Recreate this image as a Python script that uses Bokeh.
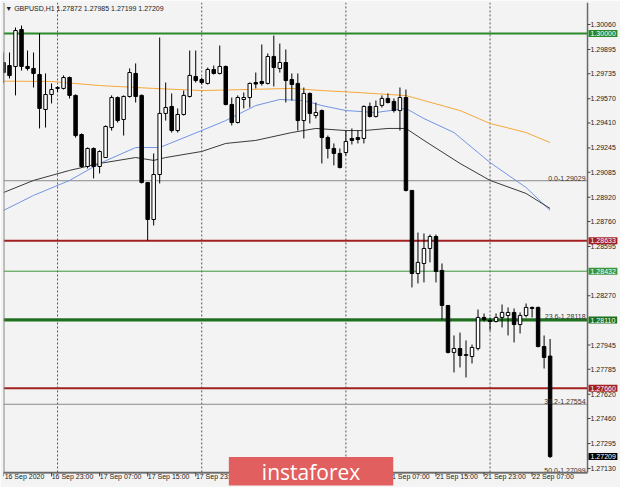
from bokeh.plotting import figure
from bokeh.models import ColumnDataSource, FixedTicker, PrintfTickFormatter, Label, Range1d
from bokeh.embed import file_html
from bokeh.resources import INLINE
from bokeh.core.properties import value

symbol = "GBPUSD,H1"

# H1 bars, 16 Sep 2020 15:00 (bar 0) ... 22 Sep 2020 10:00 (bar 91)
opens = [1.29809, 1.29789, 1.29783, 1.30027, 1.29783, 1.29770, 1.29730, 1.29499, 1.29598, 1.29638,
         1.29638, 1.29710, 1.29592, 1.29334, 1.29123, 1.29242, 1.29123, 1.29182, 1.29380, 1.29578,
         1.29433, 1.29585, 1.29737, 1.29592, 1.29017, 1.28773, 1.29070, 1.29473, 1.29519, 1.29360,
         1.29466, 1.29585, 1.29717, 1.29697, 1.29671, 1.29763, 1.29737, 1.29783, 1.29532, 1.29413,
         1.29565, 1.29578, 1.29677, 1.29684, 1.29671, 1.29849, 1.29770, 1.29809, 1.29697, 1.29671,
         1.29426, 1.29605, 1.29459, 1.29492, 1.29314, 1.29242, 1.29209, 1.29215, 1.29308, 1.29314,
         1.29308, 1.29519, 1.29453, 1.29526, 1.29572, 1.29552, 1.29492, 1.29578, 1.28965, 1.28417,
         1.28483, 1.28582, 1.28661, 1.28437, 1.28206, 1.27896, 1.27922, 1.27876, 1.27869, 1.27922,
         1.28127, 1.28107, 1.28100, 1.28127, 1.28140, 1.28160, 1.28080, 1.28140, 1.28193, 1.28193,
         1.27935, 1.27872]
highs = [1.29875, 1.29875, 1.30040, 1.30053, 1.29888, 1.29875, 1.30001, 1.29737, 1.29671, 1.29653,
         1.29724, 1.29717, 1.29598, 1.29341, 1.29248, 1.29248, 1.29229, 1.29394, 1.29592, 1.29585,
         1.29592, 1.29770, 1.29803, 1.29598, 1.29017, 1.29209, 1.29974, 1.29677, 1.29605, 1.29506,
         1.29624, 1.29888, 1.29888, 1.29710, 1.29776, 1.29789, 1.29921, 1.29789, 1.29578, 1.29592,
         1.29611, 1.29677, 1.29743, 1.29928, 1.29869, 1.29987, 1.29934, 1.29895, 1.29737, 1.29737,
         1.29644, 1.29611, 1.29545, 1.29499, 1.29327, 1.29275, 1.29242, 1.29360, 1.29374, 1.29360,
         1.29526, 1.29545, 1.29558, 1.29592, 1.29605, 1.29572, 1.29644, 1.29631, 1.28965, 1.28687,
         1.28681, 1.28674, 1.28674, 1.28483, 1.28206, 1.28008, 1.28027, 1.27975, 1.27948, 1.28179,
         1.28153, 1.28127, 1.28153, 1.28212, 1.28193, 1.28186, 1.28160, 1.28219, 1.28199, 1.28199,
         1.28008, 1.27985]
lows = [1.29671, 1.29704, 1.29592, 1.29756, 1.29756, 1.29644, 1.29374, 1.29380, 1.29539, 1.29613,
        1.29631, 1.29572, 1.29314, 1.29116, 1.29110, 1.29044, 1.29077, 1.29182, 1.29360, 1.29413,
        1.29327, 1.29578, 1.29545, 1.29011, 1.28635, 1.28734, 1.29011, 1.29426, 1.29347, 1.29347,
        1.29459, 1.29578, 1.29677, 1.29664, 1.29664, 1.29730, 1.29730, 1.29526, 1.29394, 1.29407,
        1.29506, 1.29512, 1.29638, 1.29657, 1.29664, 1.29651, 1.29743, 1.29545, 1.29558, 1.29360,
        1.29308, 1.29407, 1.29440, 1.29143, 1.29176, 1.29130, 1.29110, 1.29196, 1.29268, 1.29275,
        1.29275, 1.29446, 1.29446, 1.29512, 1.29539, 1.29479, 1.29360, 1.28958, 1.28325, 1.28351,
        1.28358, 1.28490, 1.28358, 1.28113, 1.27889, 1.27764, 1.27797, 1.27731, 1.27823, 1.27909,
        1.28100, 1.28041, 1.28094, 1.28061, 1.28008, 1.27962, 1.28021, 1.28127, 1.28127, 1.27929,
        1.27790, 1.27199]
closes = [1.29743, 1.29723, 1.30020, 1.29783, 1.29770, 1.29737, 1.29506, 1.29598, 1.29631, 1.29644,
          1.29710, 1.29592, 1.29327, 1.29123, 1.29242, 1.29123, 1.29222, 1.29387, 1.29578, 1.29426,
          1.29585, 1.29743, 1.29585, 1.29017, 1.28773, 1.29070, 1.29473, 1.29512, 1.29360, 1.29466,
          1.29592, 1.29724, 1.29690, 1.29677, 1.29763, 1.29737, 1.29783, 1.29532, 1.29413, 1.29578,
          1.29578, 1.29671, 1.29667, 1.29671, 1.29849, 1.29776, 1.29809, 1.29690, 1.29664, 1.29426,
          1.29605, 1.29473, 1.29479, 1.29314, 1.29242, 1.29209, 1.29116, 1.29288, 1.29295, 1.29301,
          1.29519, 1.29453, 1.29519, 1.29572, 1.29545, 1.29492, 1.29578, 1.28965, 1.28417, 1.28490,
          1.28582, 1.28661, 1.28430, 1.28206, 1.27896, 1.27922, 1.27876, 1.27882, 1.27929, 1.28127,
          1.28113, 1.28100, 1.28127, 1.28160, 1.28160, 1.28080, 1.28140, 1.28193, 1.28186, 1.27935,
          1.27863, 1.27209]

# moving averages (read at selected bars)
ma_orange_bars = [0, 8, 16, 25, 33, 48, 53, 59, 67, 70, 76, 81, 87, 91]
ma_orange = [1.29686, 1.29684, 1.29657, 1.29638, 1.29624, 1.29638, 1.29624, 1.29611, 1.29591,
             1.29558, 1.29492, 1.29407, 1.29347, 1.29281]
ma_blue_bars = [0, 5, 11, 16, 22, 26, 33, 37, 42, 46, 50, 53, 57, 62, 67, 70, 75, 81, 87, 91]
ma_blue = [1.28833, 1.28932, 1.29031, 1.29143, 1.29248, 1.29248, 1.29360, 1.29426, 1.29525, 1.29565,
           1.29558, 1.29525, 1.29492, 1.29479, 1.29506, 1.29439, 1.29347, 1.29149, 1.28984, 1.28833]
ma_black_bars = [0, 5, 11, 16, 22, 25, 27, 33, 37, 42, 48, 52, 57, 60, 64, 67, 70, 76, 81, 87, 91]
ma_black = [1.28951, 1.29031, 1.29097, 1.29143, 1.29182, 1.29163, 1.29182, 1.29222, 1.29275, 1.29295,
            1.29347, 1.29374, 1.29360, 1.29360, 1.29374, 1.29374, 1.29295, 1.29143, 1.29031, 1.28945,
            1.28846]

# horizontal levels
level_prices = [1.30000, 1.28633, 1.28432, 1.28110, 1.27660]
level_kinds = ["green", "red", "green_thin", "green_thick", "red"]

# fibonacci levels
fib_pcts = ["0.0", "23.6", "38.2", "50.0"]
fib_prices = [1.29029, 1.28118, 1.27554, 1.27099]

# axes
time_tick_bars = [0, 8, 16, 24, 32, 40, 48, 56, 64, 72, 80, 88]
time_tick_labels = ["16 Sep 2020", "16 Sep 23:00", "17 Sep 07:00", "17 Sep 15:00", "17 Sep 23:00",
                    "18 Sep 07:00", "18 Sep 15:00", "18 Sep 23:00", "21 Sep 07:00", "21 Sep 15:00",
                    "21 Sep 23:00", "22 Sep 07:00"]
day_separator_bars = [9, 33, 57, 81]
price_ticks = [1.30060, 1.29895, 1.29735, 1.29570, 1.29410, 1.29245, 1.29085, 1.28920, 1.28760,
               1.28595, 1.28270, 1.27945, 1.27785, 1.27620, 1.27460, 1.27295, 1.27130]

# ---------------------------------------------------------------------
STY = {
    "green": ("#2a8a2a", 2),
    "green_thin": ("#3a963a", 1),
    "green_thick": ("#1d701d", 3),
    "red": ("#a32020", 2),
}
FONT = "Liberation Sans"

# chart geometry (in data units)
X0, X_AXIS, X_END = 0.0, 97.23, 102.22          # left edge, price-scale line, right edge
Y_TOP, Y_AXIS, Y_END = 1.30205, 1.27104, 1.27018  # top, time-scale line, bottom edge
BAR_PX = 6.007
PRICE_PX = 0.000066

n = len(opens)
idx = list(range(n))
src = ColumnDataSource(dict(
    x=idx, h=highs, l=lows,
    top=[max(o, c) for o, c in zip(opens, closes)],
    bottom=[min(o, c) for o, c in zip(opens, closes)],
    fill=["white" if c >= o else "black" for o, c in zip(opens, closes)],
))

p = figure(width=620, height=487, output_backend="svg", toolbar_location=None,
           x_range=Range1d(X0, X_END), y_range=Range1d(Y_END, Y_TOP),
           y_axis_location="right",
           min_border_left=3, min_border_right=3, min_border_top=2, min_border_bottom=2,
           background_fill_color="#f3f3f3", border_fill_color="#f3f3f3",
           outline_line_color=None)
p.xgrid.visible = False
p.ygrid.visible = False

# day separators (dotted)
p.segment(x0=day_separator_bars, y0=[Y_AXIS] * len(day_separator_bars),
          x1=day_separator_bars, y1=[Y_TOP] * len(day_separator_bars),
          line_color="#555555", line_width=1, line_dash="2 2")

# fib lines
p.segment(x0=[X0] * len(fib_prices), y0=fib_prices, x1=[X_AXIS] * len(fib_prices), y1=fib_prices,
          line_color="#8a8a8a", line_width=1)

# level lines
p.segment(x0=[X0] * len(level_prices), y0=level_prices,
          x1=[X_AXIS] * len(level_prices), y1=level_prices,
          line_color=[STY[k][0] for k in level_kinds], line_width=[STY[k][1] for k in level_kinds])

# moving averages
p.line(ma_orange_bars, ma_orange, line_color="#f5a93b", line_width=1)
p.line(ma_blue_bars, ma_blue, line_color="#7394e3", line_width=1)
p.line(ma_black_bars, ma_black, line_color="#3a3a3a", line_width=1)

# candles
p.segment(x0="x", y0="l", x1="x", y1="h", source=src, line_color="black", line_width=1)
p.vbar(x="x", top="top", bottom="bottom", width=0.58, source=src,
       fill_color="fill", line_color="black", line_width=1)

# fib labels
p.text(x=[96.9] * len(fib_prices), y=fib_prices,
       text=[f"{a}-{b:.5f}" for a, b in zip(fib_pcts, fib_prices)],
       text_align="right", text_baseline="bottom", text_font_size="7px",
       text_font=value(FONT), text_color="#333333")

# chart frame lines (left edge, price scale line, time scale line)
p.segment(x0=[X0, X_AXIS, X0], y0=[Y_AXIS, Y_AXIS, Y_AXIS], x1=[X0, X_AXIS, X_AXIS],
          y1=[Y_TOP, Y_TOP, Y_AXIS], line_color=["#8a8a8a", "#6a6a6a", "#6a6a6a"],
          line_width=[2, 1.5, 1.5])

# tick marks of both scales
p.segment(x0=time_tick_bars, y0=[Y_AXIS] * len(time_tick_bars),
          x1=time_tick_bars, y1=[Y_AXIS - 4 * PRICE_PX] * len(time_tick_bars),
          line_color="#444444", line_width=1)
p.segment(x0=[X_AXIS] * len(price_ticks), y0=price_ticks,
          x1=[X_AXIS + 3 / BAR_PX] * len(price_ticks), y1=price_ticks,
          line_color="#444444", line_width=1)

# time axis: labels start at the tick, as in the terminal
label_shift = 21 / BAR_PX
xa = p.xaxis[0]
xa.ticker = FixedTicker(ticks=[b + label_shift for b in time_tick_bars])
xa.major_label_overrides = {b + label_shift: t for b, t in zip(time_tick_bars, time_tick_labels)}
xa.major_label_text_font = FONT
xa.major_label_text_font_size = "7px"
xa.major_label_text_color = "#222222"
xa.major_label_standoff = -13
xa.major_tick_in = 0
xa.major_tick_out = 0
xa.minor_tick_out = 0
xa.minor_tick_in = 0
xa.axis_line_color = None

# price axis
ya = p.yaxis[0]
ya.ticker = FixedTicker(ticks=price_ticks)
ya.formatter = PrintfTickFormatter(format="%.5f")
ya.major_label_text_font = FONT
ya.major_label_text_font_size = "7px"
ya.major_label_text_color = "#222222"
ya.major_label_standoff = -27
ya.major_tick_in = 0
ya.major_tick_out = 0
ya.minor_tick_out = 0
ya.minor_tick_in = 0
ya.axis_line_color = None

# price tags on the price scale
tag_prices = level_prices + [closes[-1]]
tag_colors = [STY[k][0] for k in level_kinds] + ["#000000"]
for tp, tc in zip(tag_prices, tag_colors):
    p.add_layout(Label(x=X_AXIS, y=tp, x_offset=1, text=f"{tp:.5f}", text_align="left",
                       text_baseline="middle", text_font=FONT, text_font_size="7px",
                       text_color="white", background_fill_color=tc,
                       padding=dict(x=2, y=1)))

# title
p.add_layout(Label(x=0.3, y=Y_TOP - 6 * PRICE_PX,
                   text=f"\u25BC {symbol} {opens[-1]:.5f} {highs[-1]:.5f} {lows[-1]:.5f} {closes[-1]:.5f}",
                   text_align="left", text_baseline="middle", text_font=FONT,
                   text_font_size="7px", text_color="#222222"))

# watermark
p.add_layout(Label(x=51.2, y=1.27107, text="instaforex", text_align="center",
                   text_baseline="middle", text_font="Open Sans", text_font_size="21px",
                   text_color="white", background_fill_color="#e15f5e",
                   padding=dict(x=33, y=1)))

open("out.html", "w").write(file_html(p, INLINE))
